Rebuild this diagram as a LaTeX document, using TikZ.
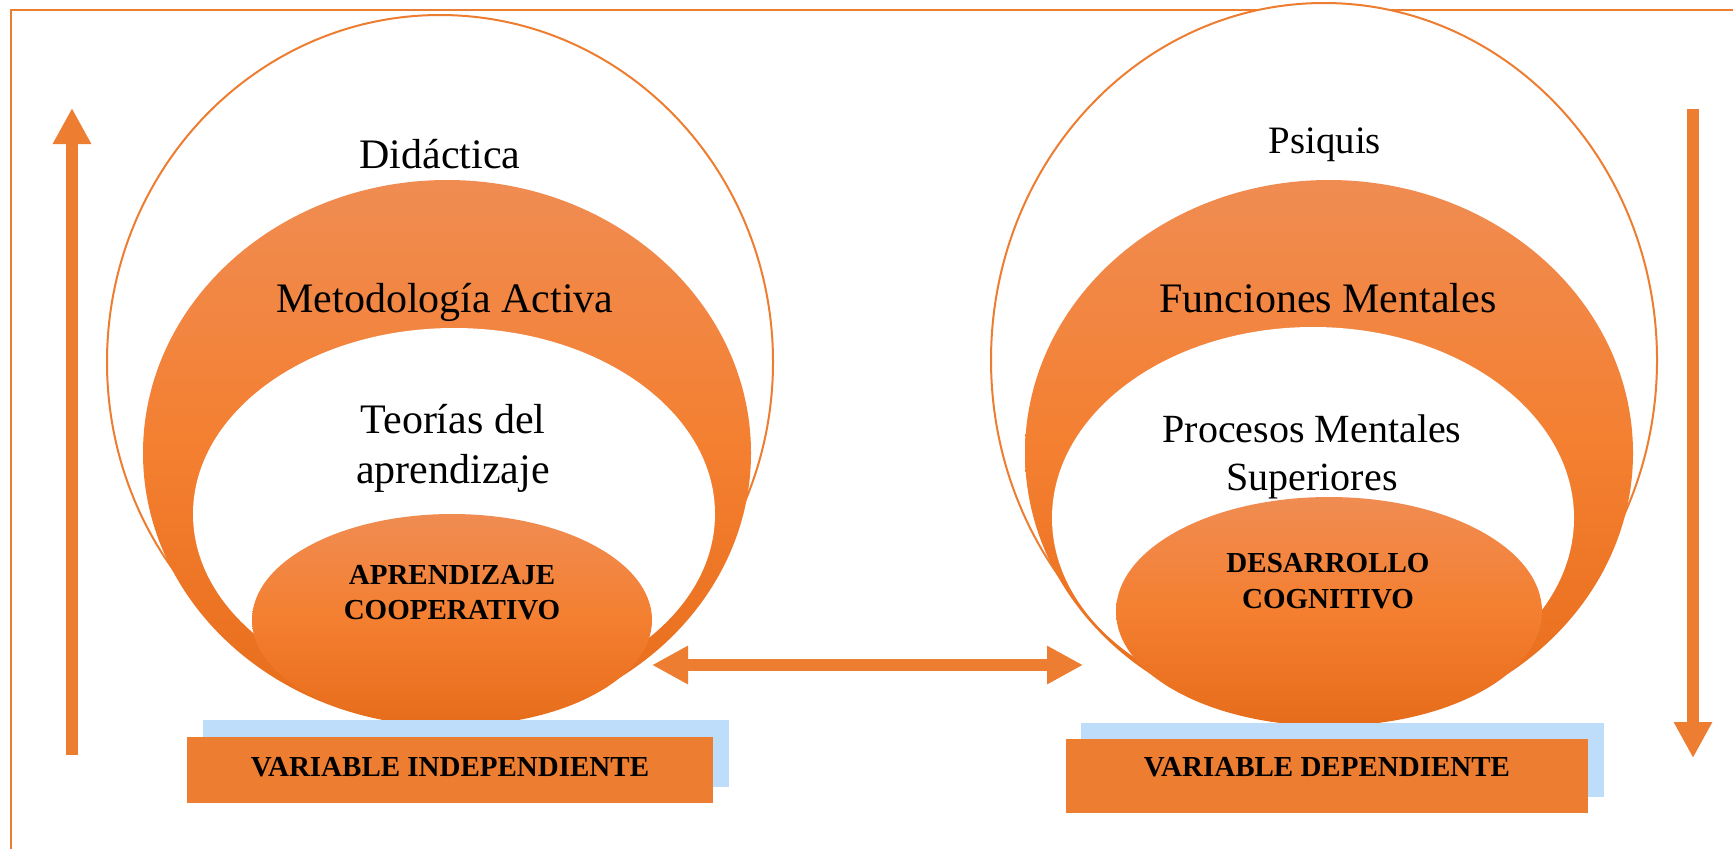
\documentclass[tikz,border=0pt]{standalone}
\usepackage{fontspec}
\setmainfont{Liberation Serif}
\usetikzlibrary{shapes.geometric,arrows.meta}
\definecolor{orng}{HTML}{ED7D31}
\definecolor{lblue}{HTML}{BDDDFB}
\definecolor{gtop}{RGB}{240,140,82}
\definecolor{gmid}{RGB}{244,127,48}
\definecolor{gbot}{RGB}{230,108,26}
\begin{document}
\begin{tikzpicture}[x=0.5pt,y=-0.5pt,
  outerc/.style={ellipse, draw=orng, line width=1pt, fill=white, inner sep=0pt},
  ringe/.style={ellipse, inner sep=0pt, top color=gtop, bottom color=gbot, middle color=gmid},
  whitee/.style={ellipse, fill=white, inner sep=0pt},
  lbl/.style={font=\fontsize{21}{25}\selectfont, anchor=base, inner sep=0pt},
  blbl/.style={font=\fontsize{14.5}{17}\selectfont\bfseries, anchor=base, inner sep=0pt},
  varbox/.style={fill=orng, inner sep=0pt, anchor=north west},
  shadowbox/.style={fill=lblue, inner sep=0pt, anchor=north west},
  bigarrow/.style={draw=orng, line width=6pt, -{Triangle[length=18pt,width=18pt]}},
  dblarrow/.style={draw=orng, line width=6pt, {Triangle[length=18pt,width=18pt]}-{Triangle[length=18pt,width=18pt]}}]
\useasboundingbox (0,0) rectangle (1733,848);
\clip (0,0) rectangle (1733,848);
% frame
\draw[orng, line width=1pt] (11,9.5) rectangle (1800,900);
% left structure
\node[outerc, minimum width=333pt, minimum height=347pt] (lout) at (440,362) {};
\node[ringe, minimum width=304pt, minimum height=273pt] (lring) at (447,453) {};
\node[whitee, minimum width=261pt, minimum height=186pt] (lwhite) at (454,514) {};
\node[ringe, minimum width=200pt, minimum height=106pt] (lsmall) at (452,620) {};
% right structure
\node[outerc, minimum width=333pt, minimum height=357pt] (rout) at (1324,360) {};
\node[ringe, minimum width=304pt, minimum height=273pt] (rring) at (1329,453) {};
\node[whitee, minimum width=261pt, minimum height=191pt] (rwhite) at (1313,518) {};
\node[ringe, minimum width=213pt, minimum height=114.5pt] (rsmall) at (1329,611.5) {};
% texts left
\node[lbl] (didac) at (440,168) {Didáctica};
\node[lbl] (metod) at (445,312) {Metodología Activa};
\node[lbl] (teor1) at (453,433) {Teorías del};
\node[lbl] (teor2) at (453,483) {aprendizaje};
\node[blbl] (apr1) at (452,584) {APRENDIZAJE};
\node[blbl] (apr2) at (452,619) {COOPERATIVO};
% texts right
\node[lbl, font=\fontsize{19.4}{23}\selectfont] (psiq) at (1325,153) {Psiquis};
\node[lbl] (func) at (1328,312) {Funciones Mentales};
\node[lbl, font=\fontsize{20}{24}\selectfont] (proc1) at (1312,442) {Procesos Mentales};
\node[lbl, font=\fontsize{20}{24}\selectfont] (proc2) at (1312,490) {Superiores};
\node[blbl] (des1) at (1328,572) {DESARROLLO};
\node[blbl] (des2) at (1328,608) {COGNITIVO};
% variable boxes
\node[shadowbox, minimum width=263pt, minimum height=33.5pt] (lshadow) at (203,720) {};
\node[varbox, minimum width=263pt, minimum height=33pt] (lbox) at (187,737) {};
\node[blbl] (vi) at (450,776) {VARIABLE INDEPENDIENTE};
\node[shadowbox, minimum width=261.5pt, minimum height=37pt] (rshadow) at (1081,723) {};
\node[varbox, minimum width=261pt, minimum height=37pt] (rbox) at (1066,739) {};
\node[blbl] (vd) at (1327,776) {VARIABLE DEPENDIENTE};
% arrows
\coordinate (lua) at (72,755);
\coordinate (lub) at (72,108);
\draw[bigarrow] (lua) -- (lub);
\coordinate (rda) at (1693,109);
\coordinate (rdb) at (1693,758);
\draw[bigarrow] (rda) -- (rdb);
\coordinate (dla) at (652,665);
\coordinate (dlb) at (1083,665);
\draw[dblarrow] (dla) -- (dlb);
\end{tikzpicture}
\end{document}
